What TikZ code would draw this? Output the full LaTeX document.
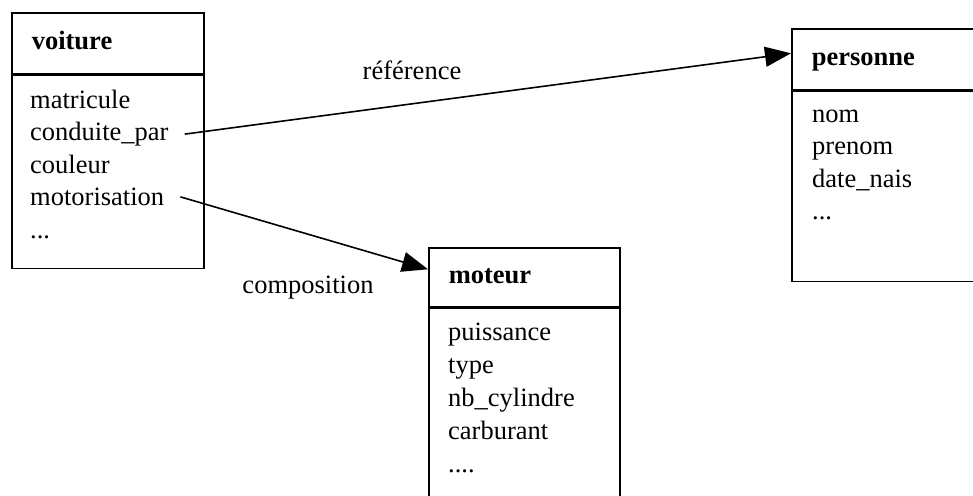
\documentclass[tikz,border=0pt]{standalone}
\usepackage{fontspec}
\setmainfont{Liberation Serif}
\usetikzlibrary{arrows.meta,positioning}

\begin{document}
\begin{tikzpicture}[
        x=1pt, y=-1pt,
        every node/.style={font=\fontsize{26.5}{32.5}\selectfont},
        head/.style={draw, line width=1.6pt, anchor=north west, minimum height=61pt,
            inner xsep=20pt, inner ysep=0pt, align=left, text height=18pt, text depth=6pt,
            font=\fontsize{26.5}{32.5}\selectfont\bfseries},
        body/.style={draw, line width=1.6pt, inner sep=0pt},
        attr/.style={anchor=base west, inner sep=0pt},
        conn/.style={-{Triangle[length=26pt, width=20pt]}, line width=1.6pt}
    ]
        \useasboundingbox (0,0) rectangle (973,495);
        \clip (0,0) rectangle (973,495);

        % voiture
        \node[head, text width=152pt] (voiture) at (11,12) {voiture};
        \node[body, minimum width=192pt, minimum height=193pt, below=0pt of voiture] (voiture-body) {};
        \foreach \a [count=\i] in {matricule, conduite\_par, couleur, motorisation, .{}.{}.}
            \node[attr] (voiture-\i) at (30,{108+32.5*(\i-1)}) {\a};

        % personne
        \node[head, text width=180pt] (personne) at (791,28) {personne};
        \node[body, minimum width=220pt, minimum height=190pt, below=0pt of personne] (personne-body) {};
        \foreach \a [count=\i] in {nom, prenom, date\_nais, .{}.{}.}
            \node[attr] (personne-\i) at (812,{122+32.5*(\i-1)}) {\a};

        % moteur
        \node[head, text width=151pt, minimum height=59pt] (moteur) at (428,247) {moteur};
        \node[body, minimum width=191pt, minimum height=250pt, below=0pt of moteur] (moteur-body) {};
        \foreach \a [count=\i] in {puissance, type, nb\_cylindre, carburant, .{}.{}.{}.}
            \node[attr] (moteur-\i) at (448,{340+33*(\i-1)}) {\a};

        % liens
        \draw[conn] ([xshift=16pt]voiture-2.east) -- ([yshift=6pt]personne.west);
        \draw[conn] ([xshift=16pt]voiture-4.east) -- ([yshift=8pt]moteur.west);
        \node (ref-label) at (412,70) {référence};
        \node (comp-label) at (308,288) {composition};
    \end{tikzpicture}
\end{document}
